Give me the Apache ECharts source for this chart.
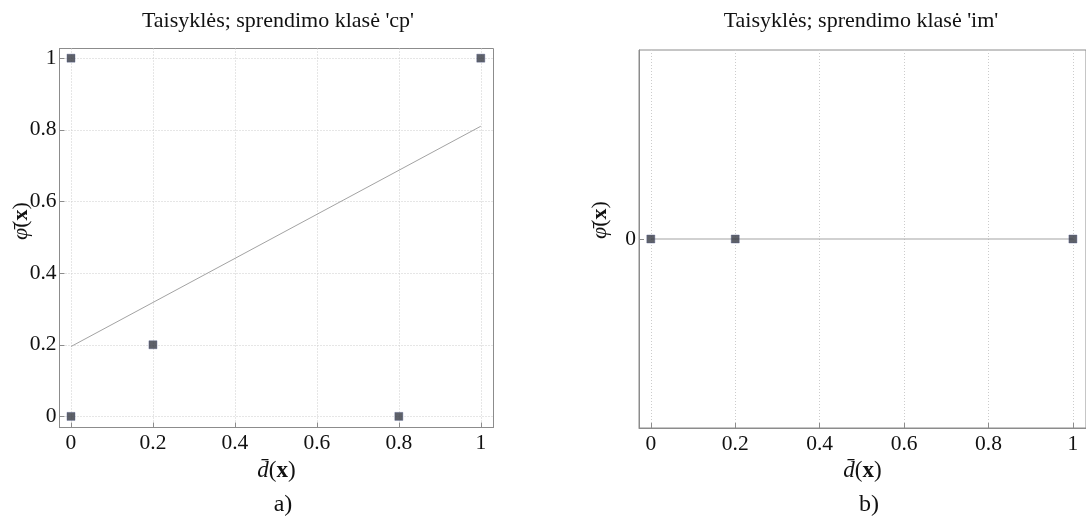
<!DOCTYPE html>
<html><head><meta charset="utf-8">
<script src="https://cdn.jsdelivr.net/npm/echarts@6/dist/echarts.min.js"></script>
<style>html,body{margin:0;padding:0;background:#fff}#c{width:1086px;height:526px}</style>
</head><body><div id="c"></div>
<script>
// ---- data ----
const titleA = "Taisyklės; sprendimo klasė 'cp'";
const titleB = "Taisyklės; sprendimo klasė 'im'";
const xTicks = [0, 0.2, 0.4, 0.6, 0.8, 1];
const yTicksA = [0, 0.2, 0.4, 0.6, 0.8, 1];
const yTicksB = [0];
const pointsA = [[0, 1], [0, 0], [0.2, 0.2], [0.8, 0], [1, 1]];
const fitA = [[0, 0.195], [1, 0.81]];
const pointsB = [[0, 0], [0.2, 0], [1, 0]];
const fitB = [[0, 0], [1, 0]];
const panelLabels = ['a)', 'b)'];

const FONT = 'Liberation Serif';
const chart = echarts.init(document.getElementById('c'), null, {renderer: 'canvas'});

const axisColor = '#8c8c8c';
const TICKFS = 21.5;
function xAxis(gi) {
  return {
    type: 'value', gridIndex: gi, min: -0.028, max: 1.031,
    axisLine: {show: true, onZero: false, lineStyle: {color: axisColor, width: 1}},
    axisTick: {show: true, inside: true, length: 5, customValues: xTicks, lineStyle: {color: axisColor}},
    axisLabel: {customValues: xTicks, fontFamily: FONT, fontSize: TICKFS, color: '#111', margin: 5},
    splitLine: {show: true, lineStyle: {color: '#cccccc', type: [1, 2], width: 1}},
    name: '{i|d\u0304}{n|(}{b|x}{n|)}', nameLocation: 'middle', nameGap: 27,
    nameTextStyle: {rich: {
      i: {fontFamily: FONT, fontStyle: 'italic', fontSize: 23, color: '#111'},
      n: {fontFamily: FONT, fontSize: 23, color: '#111'},
      b: {fontFamily: FONT, fontWeight: 'bold', fontSize: 23, color: '#111'}
    }}
  };
}
function yAxis(gi, ticks, min, max, grid) {
  return {
    type: 'value', gridIndex: gi, min: min, max: max,
    axisLine: {show: true, onZero: false, lineStyle: {color: axisColor, width: 1}},
    axisTick: {show: true, inside: true, length: 5, customValues: ticks, lineStyle: {color: axisColor}},
    axisLabel: {customValues: ticks, fontFamily: FONT, fontSize: TICKFS, color: '#111', margin: 3},
    splitLine: {show: grid, lineStyle: {color: '#cccccc', type: [1, 2], width: 1}}
  };
}
const markerStyle = {color: '#363943', borderColor: '#4f5b88', borderWidth: 0.5};
const lineStyle = {color: '#a3a3a3', width: 1};

function ylabel(x, y) {
  return {
    type: 'text', x: x, y: y, rotation: Math.PI / 2,
    style: {
      text: '{i|\u03c6\u0304}{n|(}{b|x}{n|)}', align: 'center', verticalAlign: 'middle',
      rich: {
        i: {fontFamily: FONT, fontStyle: 'italic', fontSize: 22, fill: '#111'},
        n: {fontFamily: FONT, fontSize: 22, fill: '#111'},
        b: {fontFamily: FONT, fontWeight: 'bold', fontSize: 22, fill: '#111'}
      }
    }
  };
}
function textAt(x, y, t, size) {
  return {type: 'text', x: x, y: y, style: {text: t, align: 'center', verticalAlign: 'middle',
    fontFamily: FONT, fontSize: size, fill: '#111'}};
}

chart.setOption({
  animation: false,
  backgroundColor: '#fff',
  grid: [
    {left: 59.5, top: 48.5, width: 434, height: 379, show: true, borderColor: axisColor, borderWidth: 1},
    {left: 639, top: 50, width: 448, height: 378, show: true, borderColor: axisColor, borderWidth: 1}
  ],
  xAxis: [xAxis(0), xAxis(1)],
  yAxis: [yAxis(0, yTicksA, -0.031, 1.027, true), yAxis(1, yTicksB, -1, 1, false)],
  series: [
    {type: 'line', xAxisIndex: 0, yAxisIndex: 0, data: fitA, showSymbol: false, lineStyle: lineStyle, z: 2},
    {type: 'scatter', xAxisIndex: 0, yAxisIndex: 0, data: pointsA, symbol: 'rect', symbolSize: 8, itemStyle: markerStyle, z: 3},
    {type: 'line', xAxisIndex: 1, yAxisIndex: 1, data: fitB, showSymbol: false, lineStyle: lineStyle, z: 2},
    {type: 'scatter', xAxisIndex: 1, yAxisIndex: 1, data: pointsB, symbol: 'rect', symbolSize: 8, itemStyle: markerStyle, z: 3}
  ],
  graphic: [
    textAt(278, 21, titleA, 22),
    textAt(861, 21, titleB, 22),
    ylabel(21, 221),
    ylabel(600, 220),
    textAt(283, 505, panelLabels[0], 24),
    textAt(869, 505, panelLabels[1], 24)
  ]
});
</script></body></html>
